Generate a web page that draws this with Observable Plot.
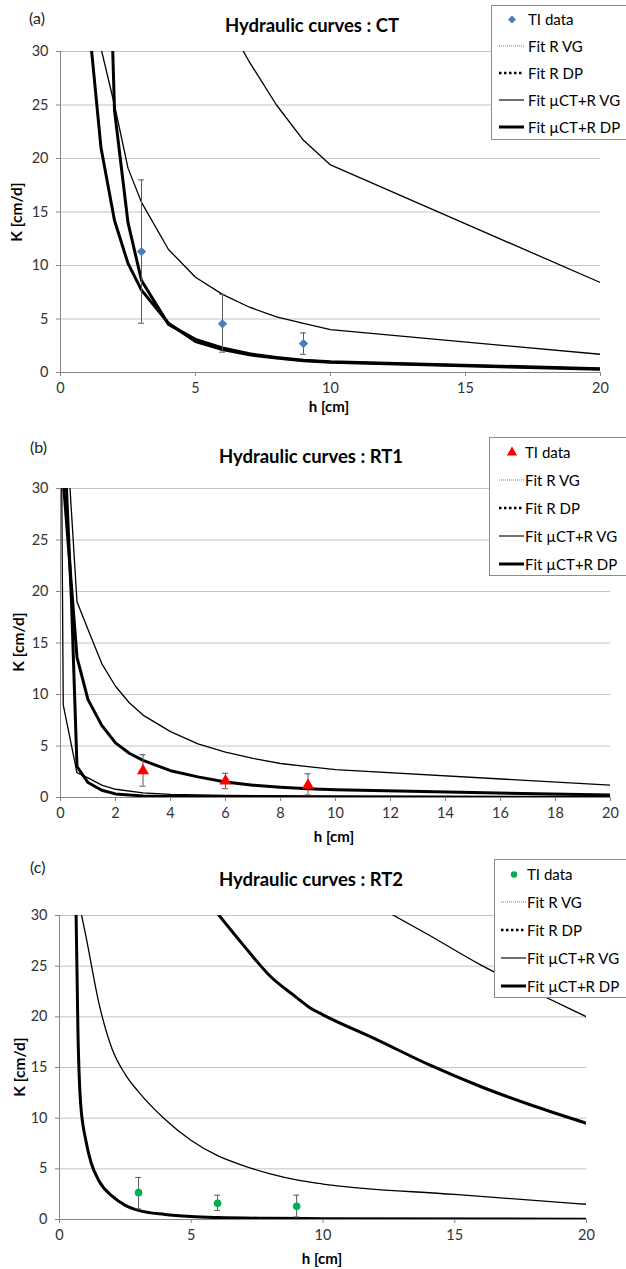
<!DOCTYPE html>
<html><head><meta charset="utf-8">
<script src="https://cdn.jsdelivr.net/npm/d3@7"></script>
<script src="https://cdn.jsdelivr.net/npm/@observablehq/plot@0.6"></script>
<style>
html,body{margin:0;padding:0;background:#fff}
#root{position:relative;width:626px;height:1269px;overflow:hidden;font-family:Lato,"Open Sans",sans-serif;color:#000}
.chart{position:absolute;left:0}
.title{position:absolute;font-weight:700;font-size:18.5px;line-height:22px;white-space:nowrap;transform:translateX(-50%)}
.tag{position:absolute;font-size:16px;line-height:19px;color:#222}
.xlab{position:absolute;font-weight:700;font-size:15px;line-height:16px;transform:translateX(-50%);white-space:nowrap}
.ylab{position:absolute;font-weight:700;font-size:15.5px;white-space:nowrap;transform:translate(-50%,-50%) rotate(-90deg)}
.legend{position:absolute;border:1px solid #8c8c8c;background:#fff;box-sizing:border-box}
.legend .row{position:absolute;left:0;height:20px;display:flex;align-items:center;font-size:15px;white-space:nowrap;transform:translateY(-50%)}
.legend .row svg{display:block}
</style></head><body><div id="root"></div><script>
// ---------- shared labels ----------
const legendLabels = ["TI data", "Fit R VG", "Fit R DP", "Fit µCT+R VG", "Fit µCT+R DP"];
const panelTags = ["(a)", "(b)", "(c)"];
const panelTitles = ["Hydraulic curves : CT", "Hydraulic curves : RT1", "Hydraulic curves : RT2"];
const xLabel = "h [cm]";
const yLabel = "K [cm/d]";
const yTicks = [0, 5, 10, 15, 20, 25, 30];
const xTicksA = [0, 5, 10, 15, 20];
const xTicksB = [0, 2, 4, 6, 8, 10, 12, 14, 16, 18, 20];
const xTicksC = [0, 5, 10, 15, 20];

// ---------- (a) CT ----------
const ctTiH = [3, 6, 9];
const ctTiK = [11.3, 4.55, 2.7];
const ctTiLo = [4.6, 1.9, 1.7];
const ctTiHi = [18.0, 7.3, 3.7];
const ctRvgH = [6, 7, 8, 9, 10, 20];
const ctRvgK = [33.5, 29, 25, 21.7, 19.4, 8.4];
const ctRdpH = [1, 1.5, 2, 2.5, 3, 4, 5, 6, 7, 8, 9, 10, 20];
const ctRdpK = [34, 21, 14.2, 10.2, 7.7, 4.6, 2.9, 2.15, 1.65, 1.35, 1.1, 0.95, 0.3];
const ctMvgH = [1.5, 2, 2.5, 3, 4, 5, 6, 7, 8, 9, 10, 20];
const ctMvgK = [30.3, 25, 19.1, 15.9, 11.5, 8.9, 7.3, 6.1, 5.2, 4.6, 4.0, 1.7];
const ctMdpH = [1.9, 2, 2.5, 3, 4, 5, 6, 7, 8, 9, 10, 20];
const ctMdpK = [33, 24.5, 14, 8.6, 4.5, 3.1, 2.3, 1.75, 1.4, 1.15, 1.0, 0.35];

// ---------- (b) RT1 ----------
const rt1TiH = [3, 6, 9];
const rt1TiK = [2.6, 1.6, 1.2];
const rt1TiLo = [1.1, 0.85, 0.25];
const rt1TiHi = [4.15, 2.35, 2.3];
const rt1RvgH = [0.02, 0.1, 0.6, 1, 1.5, 2, 3, 4, 6, 10, 20];
const rt1RvgK = [40, 9.0, 2.4, 1.9, 1.2, 0.8, 0.45, 0.3, 0.2, 0.12, 0.05];
const rt1RdpH = [0.05, 0.4, 0.6, 1, 1.5, 2, 3, 4, 10, 20];
const rt1RdpK = [40, 19, 3.0, 1.45, 0.7, 0.35, 0.15, 0.1, 0.05, 0.02];
const rt1MvgH = [0.3, 0.6, 1, 1.5, 2, 2.5, 3, 4, 5, 6, 7, 8, 9, 10, 20];
const rt1MvgK = [32, 19, 16.3, 13, 10.8, 9.2, 8.0, 6.4, 5.2, 4.4, 3.8, 3.3, 3.0, 2.7, 1.2];
const rt1MdpH = [0.1, 0.6, 1, 1.5, 2, 2.5, 3, 4, 5, 6, 7, 8, 9, 10, 20];
const rt1MdpK = [30.8, 13.6, 9.5, 7.0, 5.3, 4.3, 3.6, 2.6, 2.0, 1.5, 1.2, 1.0, 0.85, 0.75, 0.23];

// ---------- (c) RT2 ----------
const rt2TiH = [3, 6, 9];
const rt2TiK = [2.65, 1.6, 1.3];
const rt2TiLo = [1.05, 0.9, 0.25];
const rt2TiHi = [4.15, 2.4, 2.4];
const rt2RvgH = [12, 14, 16, 18, 20];
const rt2RvgK = [31, 28.1, 25.1, 22.5, 20.0];
const rt2RdpH = [0.6, 0.7, 0.8, 1, 1.2, 1.5, 2, 2.5, 3, 4, 5, 6, 8, 10, 20];
const rt2RdpK = [35, 18.5, 11.5, 7.8, 5.6, 3.8, 2.3, 1.4, 0.9, 0.5, 0.3, 0.2, 0.12, 0.08, 0.02];
const rt2MvgH = [0.8, 1, 1.5, 2, 2.5, 3, 4, 5, 6, 7, 8, 9, 10, 15, 20];
const rt2MvgK = [30.5, 28, 21.3, 16.8, 14.3, 12.6, 9.9, 7.8, 6.3, 5.3, 4.5, 3.9, 3.5, 2.47, 1.5];
const rt2MdpH = [6, 7, 8, 9, 9.5, 10, 12, 14, 16, 18, 20];
const rt2MdpK = [30.2, 27, 24, 21.9, 20.9, 20.2, 17.8, 15.3, 13.1, 11.2, 9.5];

// ---------- helpers ----------
const rows = (hs, ks) => hs.map((h, i) => ({h, K: ks[i]}));
const tiRows = (hs, ks, lo, hi) => hs.map((h, i) => ({h, K: ks[i], lo: lo[i], hi: hi[i]}));

const thin = 1.3, thick = 3;

const panels = [
  {top: 0, height: 410, mt: 51, mb: 38, ml: 60, mr: 26, xticks: xTicksA, curve: "linear",
   ti: tiRows(ctTiH, ctTiK, ctTiLo, ctTiHi), symbol: "diamond2", color: "#4a7ebb", r: 4.2, cap: 0.11,
   lines: [[rows(ctRvgH, ctRvgK), thin], [rows(ctRdpH, ctRdpK), thick], [rows(ctMvgH, ctMvgK), thin], [rows(ctMdpH, ctMdpK), thick]],
   tag: [29, 8], title: [312, 14], xlab: [329, 398], ylab: [16, 212],
   legend: {left: 491, top: 5, h: 135, first: 18.3, step: 27, sx: 6, tx: 36}},
  {top: 415, height: 410, mt: 73, mb: 28, ml: 60, mr: 16, xticks: xTicksB, curve: "linear",
   ti: tiRows(rt1TiH, rt1TiK, rt1TiLo, rt1TiHi), symbol: "triangle", color: "#ff0000", r: 4.5, cap: 0.11,
   lines: [[rows(rt1RvgH, rt1RvgK), thin], [rows(rt1RdpH, rt1RdpK), thick], [rows(rt1MvgH, rt1MvgK), thin], [rows(rt1MdpH, rt1MdpK), thick]],
   tag: [30, 437], title: [311, 445], xlab: [334, 828], ylab: [18, 642],
   legend: {left: 489, top: 437, h: 139, first: 450.7, step: 28, sx: 8, tx: 35}},
  {top: 840, height: 429, mt: 75, mb: 50, ml: 59, mr: 40, xticks: xTicksC, curve: "monotone-x",
   ti: tiRows(rt2TiH, rt2TiK, rt2TiLo, rt2TiHi), symbol: "circle", color: "#00b050", r: 3.8, cap: 0.11,
   lines: [[rows(rt2RvgH, rt2RvgK), thin], [rows(rt2RdpH, rt2RdpK), thick], [rows(rt2MvgH, rt2MvgK), thin], [rows(rt2MdpH, rt2MdpK), thick]],
   tag: [30, 857], title: [311, 868], xlab: [322, 1250], ylab: [19, 1067],
   legend: {left: 494, top: 859, h: 139, first: 873.3, step: 27.9, sx: 5, tx: 32}}
];

const root = document.getElementById("root");

function addDiv(cls, text, x, y) {
  const d = document.createElement("div");
  d.className = cls; d.textContent = text;
  d.style.left = x + "px"; d.style.top = y + "px";
  root.appendChild(d);
  return d;
}

function sampleSvg(i, p) {
  const ns = "http://www.w3.org/2000/svg";
  if (i === 0) {
    return Plot.plot({width: 27, height: 20, margin: 0, x: {domain: [-1, 1], axis: null}, y: {axis: null},
      marks: [Plot.dot([0], {x: d => d, frameAnchor: "middle", symbol: p.symbol, fill: p.color, r: p.r * 0.85})]});
  }
  const s = document.createElementNS(ns, "svg");
  s.setAttribute("width", 27); s.setAttribute("height", 20);
  const l = document.createElementNS(ns, "line");
  l.setAttribute("x1", 1); l.setAttribute("x2", 26); l.setAttribute("y1", 10); l.setAttribute("y2", 10);
  if (i === 1) { l.setAttribute("stroke", "#7f7f7f"); l.setAttribute("stroke-width", 1); l.setAttribute("stroke-dasharray", "1 1"); }
  if (i === 2) { l.setAttribute("stroke", "#000"); l.setAttribute("stroke-width", 2.5); l.setAttribute("stroke-dasharray", "2.5 2.5"); }
  if (i === 3) { l.setAttribute("stroke", "#222"); l.setAttribute("stroke-width", 1.3); }
  if (i === 4) { l.setAttribute("stroke", "#000"); l.setAttribute("stroke-width", 3); }
  s.appendChild(l);
  return s;
}

panels.forEach((p, k) => {
  const chart = Plot.plot({
    width: 626, height: p.height,
    marginTop: p.mt, marginBottom: p.mb, marginLeft: p.ml, marginRight: p.mr,
    style: {fontFamily: "Lato, 'Open Sans', sans-serif", fontSize: "14.5px", color: "#333", background: "transparent", overflow: "visible"},
    x: {domain: [0, 20], label: null},
    y: {domain: [0, 30], label: null},
    marks: [
      Plot.gridY(yTicks.slice(1), {stroke: "#c4c4c4", strokeOpacity: 1, strokeWidth: 1}),
      Plot.axisY(yTicks, {tickSize: 4, tickPadding: 8, stroke: "#868686", fill: "#333", label: null}),
      Plot.axisX(p.xticks, {tickSize: 4, tickPadding: 6, stroke: "#868686", fill: "#333", label: null}),
      Plot.ruleX([0], {stroke: "#868686"}),
      Plot.ruleY([0], {stroke: "#868686"}),
      ...p.lines.map(([data, w]) => Plot.line(data, {x: "h", y: "K", stroke: "#000", strokeWidth: w, curve: p.curve, clip: true, strokeLinejoin: "round"})),
      Plot.ruleX(p.ti, {x: "h", y1: "lo", y2: "hi", stroke: "#595959", strokeWidth: 1}),
      Plot.ruleY(p.ti, {y: "lo", x1: d => d.h - p.cap, x2: d => d.h + p.cap, stroke: "#595959", strokeWidth: 1}),
      Plot.ruleY(p.ti, {y: "hi", x1: d => d.h - p.cap, x2: d => d.h + p.cap, stroke: "#595959", strokeWidth: 1}),
      Plot.dot(p.ti, {x: "h", y: "K", symbol: p.symbol, fill: p.color, stroke: "none", r: p.r})
    ]
  });
  chart.classList.add("chart");
  chart.style.position = "absolute";
  chart.style.top = p.top + "px";
  chart.style.left = "0px";
  root.appendChild(chart);

  addDiv("tag", panelTags[k], p.tag[0], p.tag[1]);
  addDiv("title", panelTitles[k], p.title[0], p.title[1]);
  addDiv("xlab", xLabel, p.xlab[0], p.xlab[1]);
  addDiv("ylab", yLabel, p.ylab[0], p.ylab[1]);

  const lg = document.createElement("div");
  lg.className = "legend";
  lg.style.left = p.legend.left + "px"; lg.style.top = p.legend.top + "px";
  lg.style.width = "150px"; lg.style.height = p.legend.h + "px";
  legendLabels.forEach((lab, i) => {
    const r = document.createElement("div");
    r.className = "row";
    r.style.top = (p.legend.first + i * p.legend.step - p.legend.top) + "px";
    r.style.left = p.legend.sx + "px";
    const sv = sampleSvg(i, p);
    sv.style.marginRight = (p.legend.tx - p.legend.sx - 27) + "px";
    r.appendChild(sv);
    const t = document.createElement("span");
    t.textContent = lab;
    r.appendChild(t);
    lg.appendChild(r);
  });
  root.appendChild(lg);
});
</script></body></html>
